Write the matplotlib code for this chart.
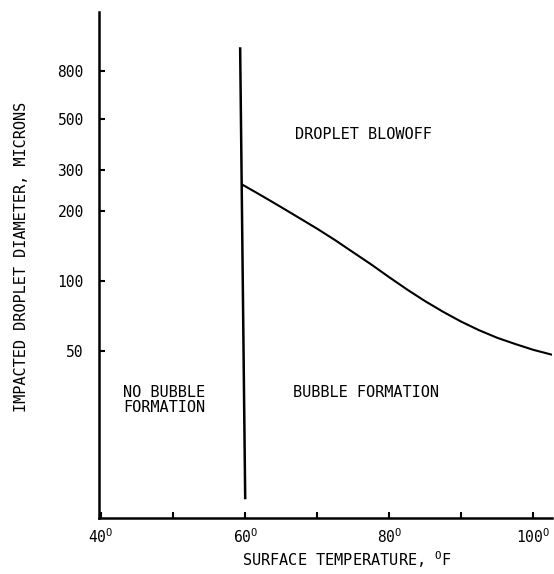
import matplotlib
matplotlib.use("Agg")
import matplotlib.pyplot as plt
from matplotlib.ticker import FixedLocator, NullLocator, NullFormatter

# curve: onset of droplet blowoff vs surface temperature
temp = [59.6, 62.5, 65, 67.5, 70, 72.5, 75, 77.5, 80, 82.5, 85, 87.5,
        90, 92.5, 95, 97.5, 100, 102.6]
diam = [260, 231, 208, 187, 168, 150, 133, 118, 104, 92, 82, 73.8,
        67, 61.5, 57.1, 53.7, 50.7, 48.3]

# boundary at ~60 F (bubble / no bubble)
wall_x = [59.3, 60.0]
wall_y = [1000, 11.7]

yticks = [50, 100, 200, 300, 500, 800]
xticks = [40, 60, 80, 100]
xminor = [50, 70, 90]

plt.rcParams['font.family'] = ['DejaVu Sans Mono']
plt.rcParams['mathtext.fontset'] = 'custom'
plt.rcParams['mathtext.rm'] = 'DejaVu Sans Mono'

fig = plt.figure(figsize=(5.54, 5.74), dpi=100)
ax = fig.add_axes([99 / 554, 1 - 518 / 574, 453 / 554, 506 / 574])

ax.plot(temp, diam, color='black', lw=1.5)
ax.plot(wall_x, wall_y, color='black', lw=1.8)

ax.set_yscale('log')
ax.set_xlim(39.7, 102.6)
ax.set_ylim(9.6, 1435)

ax.yaxis.set_major_locator(FixedLocator(yticks))
ax.yaxis.set_minor_locator(NullLocator())
ax.yaxis.set_minor_formatter(NullFormatter())
ax.set_yticklabels([str(v) for v in yticks])

ax.xaxis.set_major_locator(FixedLocator(xticks))
ax.xaxis.set_minor_locator(FixedLocator(xminor))
ax.set_xticklabels([f"{v}$^{{\\mathrm{{O}}}}$" for v in xticks])

for s in ['top', 'right']:
    ax.spines[s].set_visible(False)
for s in ['left', 'bottom']:
    ax.spines[s].set_linewidth(1.8)

ax.tick_params(axis='y', which='major', direction='in', length=4, width=1.5,
               labelsize=10.5, pad=11)
ax.tick_params(axis='x', which='both', direction='in', length=4, width=1.5,
               labelsize=10.5, pad=7)

fs = 11
ax.text(66.9, 429, "DROPLET BLOWOFF", fontsize=fs, va='center', ha='left')
ax.text(66.7, 33.3, "BUBBLE FORMATION", fontsize=fs, va='center', ha='left')
ax.text(43.0, 30.8, "NO BUBBLE\nFORMATION", fontsize=fs, va='center', ha='left',
        linespacing=1.0)

ax.set_xlabel("SURFACE TEMPERATURE, $^{\\mathrm{O}}$F", fontsize=fs)
ax.xaxis.set_label_coords(0.547, -0.083)
ax.xaxis.label.set_va('center')
ax.set_ylabel("IMPACTED DROPLET DIAMETER, MICRONS", fontsize=fs)
ax.yaxis.set_label_coords(-0.17, 0.516)
ax.yaxis.label.set_va('center')

fig.savefig("out.png", dpi=100)
